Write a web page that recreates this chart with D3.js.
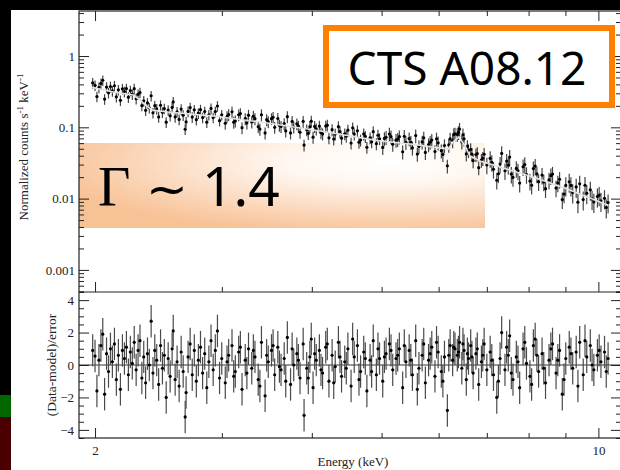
<!DOCTYPE html>
<html><head><meta charset="utf-8">
<script src="https://cdn.jsdelivr.net/npm/d3@7"></script>
<style>html,body{margin:0;padding:0;background:#000;} svg{display:block}</style>
</head><body>
<svg id="c" width="620" height="470"></svg>
<script>
// ---------------- data ----------------
const energy = [
1.985,2.000,2.012,2.025,2.038,2.050,2.062,2.075,2.088,2.101,2.114,2.128,2.141,2.155,2.169,2.183,2.197,2.211,2.225,2.239,
2.253,2.267,2.281,2.295,2.309,2.323,2.337,2.351,2.365,2.379,2.393,2.407,2.421,2.436,2.451,2.466,2.481,2.496,2.511,2.527,
2.543,2.559,2.568,2.584,2.600,2.617,2.634,2.651,2.668,2.676,2.693,2.711,2.729,2.747,2.765,2.783,2.802,2.821,2.840,2.859,
2.878,2.898,2.918,2.938,2.958,2.978,2.999,
3.033,3.050,3.066,3.099,3.116,3.132,3.166,3.183,3.200,3.233,
3.250,3.267,3.301,3.318,3.335,3.370,3.388,3.405,3.445,3.462,
3.480,3.516,3.534,3.552,3.588,3.606,3.625,3.662,3.680,3.699,
3.737,3.756,3.775,3.813,3.832,3.852,3.891,3.902,3.935,3.955,
3.975,3.993,4.016,4.036,4.057,4.098,4.119,4.140,4.182,4.203,
4.225,4.268,4.290,4.311,4.355,4.377,4.399,4.444,4.466,4.489,
4.535,4.558,4.581,4.628,4.651,4.675,4.722,4.746,4.770,4.819,
4.843,4.868,4.917,4.942,4.967,
5.018,5.045,5.072,5.126,5.153,5.181,5.236,5.264,5.292,5.348,
5.376,5.404,5.461,5.490,5.518,5.576,5.605,5.634,5.692,5.721,
5.751,5.810,5.840,5.870,5.930,5.960,5.991,6.052,6.082,6.113,
6.170,6.198,6.225,6.275,6.298,6.322,6.369,6.392,6.415,6.462,
6.485,6.508,6.555,6.578,6.601,6.648,6.674,6.700,6.760,6.790,
6.820,6.880,6.910,6.940,7.000,
7.075,7.112,7.150,7.226,7.264,7.303,7.340,7.418,7.458,7.497,
7.530,7.570,7.610,7.692,7.733,7.775,7.860,7.903,7.946,8.034,
8.078,8.123,8.170,8.215,8.260,8.352,8.398,8.445,8.540,8.590,
8.636,8.734,8.784,8.833,8.910,8.960,9.010,9.110,9.160,9.212,
9.315,9.367,9.420,9.527,9.581,9.635,9.745,9.800,9.856,9.969,
10.025,10.083,10.198,10.255,10.315];

const counts = [
0.420,0.388,0.270,0.363,0.413,0.457,0.249,0.367,0.305,0.373,0.324,0.383,0.268,0.336,0.239,0.347,0.317,0.349,0.265,0.328,
0.291,0.348,0.252,0.290,0.307,0.202,0.235,0.173,0.220,0.188,0.277,0.160,0.201,0.181,0.140,0.204,0.163,0.183,0.118,0.175,
0.145,0.190,0.227,0.140,0.165,0.129,0.180,0.148,0.094,0.119,0.167,0.189,0.139,0.176,0.128,0.158,0.177,0.137,0.166,0.118,
0.150,0.184,0.137,0.166,0.199,0.124,0.150,
0.114,0.141,0.151,0.165,0.118,0.123,0.150,0.156,0.099,0.132,
0.115,0.148,0.119,0.143,0.132,0.102,0.0944,0.150,0.0835,0.128,
0.120,0.132,0.138,0.100,0.133,0.107,0.103,0.113,0.0890,0.141,
0.0834,0.121,0.101,0.112,0.104,0.0853,0.121,0.0564,0.0922,0.0820,
0.102,0.122,0.0727,0.103,0.0950,0.104,0.0840,0.0808,0.104,0.107,
0.0712,0.0926,0.0686,0.0804,0.102,0.0871,0.0705,0.0810,0.0749,0.0912,
0.0602,0.0985,0.0807,0.0894,0.0619,0.0664,0.0807,0.0745,0.0524,0.0713,
0.0626,0.0868,0.0590,0.0774,0.0690,
0.0523,0.0699,0.0726,0.0806,0.0740,0.0581,0.0661,0.0681,0.0738,0.0454,
0.0750,0.0616,0.0696,0.0617,0.0514,0.0765,0.0422,0.0541,0.0624,0.0713,
0.0445,0.0573,0.0619,0.0662,0.0458,0.0690,0.0607,0.0470,0.0417,0.0556,
0.0288,0.0566,0.0687,0.0652,0.0794,0.0811,0.0795,0.0848,0.0944,0.0624,
0.0787,0.0690,0.0424,0.0541,0.0475,0.0491,0.0420,0.0341,0.0414,0.0429,
0.0272,0.0347,0.0368,0.0419,0.0297,
0.0367,0.0322,0.0258,0.0181,0.0223,0.0305,0.0431,0.0246,0.0335,0.0294,
0.0382,0.0221,0.0198,0.0265,0.0245,0.0165,0.0280,0.0301,0.0218,0.0176,
0.0154,0.0264,0.0286,0.0222,0.0173,0.0214,0.0171,0.0138,0.0183,0.0210,
0.0221,0.0141,0.0166,0.0187,0.0097,0.0116,0.0153,0.0172,0.0153,0.0122,
0.0146,0.0089,0.0161,0.0097,0.0154,0.0119,0.0133,0.0099,0.0090,0.0107,
0.0112,0.0093,0.0101,0.0075,0.0088];

const residual = [
0.9,0.55,-1.6,0.3,1.2,1.9,-1.8,0.7,-0.4,1.0,0.2,1.3,-0.9,0.6,-1.5,0.9,0.4,1.1,-0.6,0.8,
0.1,1.4,-0.3,0.9,1.5,-0.8,0.5,-1.1,0.7,0.0,2.7,-0.5,0.9,0.3,-1.2,1.2,-0.2,0.6,-2.0,0.4,
-0.7,1.0,2.1,-0.9,0.2,-1.3,0.8,-0.4,-3.2,-1.7,0.5,1.3,-0.6,0.9,-1.0,0.3,1.1,-0.5,0.7,-1.4,
0.2,1.5,-0.3,0.9,2.1,-0.8,0.4,
-1.1,0.2,0.6,1.2,-0.7,-0.4,0.8,1.1,-1.5,0.3,
-0.5,1.0,-0.2,0.9,0.5,-0.9,-1.3,1.4,-1.9,0.6,
0.2,0.9,1.2,-0.6,1.1,-0.1,-0.3,0.4,-1.0,1.7,
-1.2,1.0,0.0,0.7,0.3,-0.8,1.3,-3.1,-0.2,-0.8,
0.5,1.6,-1.4,0.7,0.3,0.9,-0.3,-0.5,1.1,1.3,
-1.0,0.6,-1.1,-0.1,1.4,0.5,-0.7,0.2,-0.2,1.0,
-1.3,1.6,0.5,1.2,-0.9,-0.4,0.8,0.4,-1.6,0.3,
-0.4,1.5,-0.6,1.0,0.4,
-1.0,0.5,0.7,1.3,0.9,-0.3,0.4,0.6,1.0,-1.4,
1.2,0.2,0.9,0.3,-0.6,1.5,-1.5,-0.2,0.6,1.3,
-1.1,0.3,0.7,1.1,-0.7,1.4,0.8,-0.4,-1.0,0.5,
-2.8,0.6,1.2,0.3,1.1,1.0,0.6,0.8,1.4,-0.2,
1.3,0.9,-0.9,0.7,0.4,1.2,0.5,-0.5,0.7,1.0,
-1.2,0.2,0.6,1.3,-0.3,
0.8,0.3,-0.6,-2.0,-1.0,0.4,2.0,-0.3,1.1,0.6,
1.8,-0.5,-0.9,0.5,0.2,-1.4,1.0,1.4,0.1,-0.7,
-1.2,1.2,1.6,0.6,-0.4,0.7,-0.2,-1.1,0.3,1.0,
1.3,-0.5,0.3,0.9,-1.8,-0.9,0.4,1.1,0.7,-0.2,
0.8,-1.3,1.4,-0.6,1.5,0.5,1.2,0.0,-0.3,0.6,
0.9,0.2,0.8,-0.4,0.4];

// relative 1-sigma error of the counts, by energy band (upper edges in keV)
const errBandEdge = [3, 5, 7, 9, 11];
const errBandFrac = [0.17, 0.19, 0.22, 0.26, 0.30];

// best-fit model curve
const modelEnergy = [1.98,2.00,2.12,2.26,2.31,2.36,2.40,2.52,2.92,3.47,4.11,4.98,5.48,6.03,6.19,6.28,6.40,6.53,6.63,6.85,7.30,7.61,8.11,9.05,10.05,10.32];
const modelCounts = [0.362,0.356,0.313,0.284,0.241,0.199,0.175,0.164,0.144,0.115,0.0888,0.0643,0.0583,0.0513,0.0496,0.0622,0.0731,0.0547,0.0396,0.0337,0.0277,0.0244,0.0201,0.01365,0.00897,0.00805];

const countTicks = [1, 0.1, 0.01, 0.001];
const countTickLabels = ["1", "0.1", "0.01", "0.001"];
const residTicks = [4, 2, 0, -2, -4];
const energyTicks = [2, 10];
const energyMinorTicks = [3, 4, 5, 6, 7, 8, 9];
const sourceName = "CTS A08.12";
const gammaSymbol = "Γ", gammaValue = "1.4";

// ---------------- layout ----------------
const W = 620, H = 470;
const L = 79, R = 621, T = 11, M = 292, B = 438;
const svg = d3.select("#c");
const serif = "'Liberation Serif','Times New Roman',serif";
const ink = "#222";

svg.append("rect").attr("width", W).attr("height", H).attr("fill", "#000");
svg.append("rect").attr("x", 11).attr("y", 10).attr("width", W - 11).attr("height", H - 10).attr("fill", "#fff");
svg.append("rect").attr("x", 0).attr("y", 395).attr("width", 11).attr("height", 22).attr("fill", "#006600");
svg.append("rect").attr("x", 0).attr("y", 417).attr("width", 11).attr("height", 53).attr("fill", "#4a0000");

const x = d3.scaleLog().domain([1.9, 10.75]).range([L, R]);
const yTop = d3.scaleLog().domain([0.00049, 4.28]).range([M, T]);
const yRes = d3.scaleLinear().domain([-4.5, 4.5]).range([B, M]);

// gradient band behind Gamma label
const defs = svg.append("defs");
const grad = defs.append("radialGradient").attr("id", "gband")
  .attr("cx", 0.76).attr("cy", 0.22).attr("r", 0.85).attr("fx", 0.76).attr("fy", 0.22);
grad.append("stop").attr("offset", "0%").attr("stop-color", "#ffffff");
grad.append("stop").attr("offset", "30%").attr("stop-color", "#fff7f0");
grad.append("stop").attr("offset", "100%").attr("stop-color", "#f8c297");
svg.append("rect").attr("x", L).attr("y", 143).attr("width", 485 - L).attr("height", 85)
  .attr("fill", "url(#gband)");

defs.append("clipPath").attr("id", "cpTop").append("rect")
  .attr("x", L).attr("y", T).attr("width", R - L).attr("height", M - T);
defs.append("clipPath").attr("id", "cpRes").append("rect")
  .attr("x", L).attr("y", M).attr("width", R - L).attr("height", B - M);

const bandFrac = e => errBandFrac[Math.max(0, errBandEdge.findIndex(b => e < b))];
const n = Math.min(energy.length, counts.length, residual.length);
const pts = d3.range(n).map(i => ({ e: energy[i], c: counts[i], r: residual[i], f: bandFrac(energy[i]) }));

// upper panel data
const gTop = svg.append("g").attr("clip-path", "url(#cpTop)");
gTop.selectAll("line.eb").data(pts).join("line")
  .attr("x1", d => x(d.e)).attr("x2", d => x(d.e))
  .attr("y1", d => yTop(d.c * (1 - d.f))).attr("y2", d => yTop(d.c * (1 + d.f)))
  .attr("stroke", "#454545").attr("stroke-width", 1.2);
gTop.selectAll("circle").data(pts).join("circle")
  .attr("cx", d => x(d.e)).attr("cy", d => yTop(d.c)).attr("r", 1.6).attr("fill", "#000");
const model = modelEnergy.map((e, i) => [e, modelCounts[i]]);
gTop.append("path").datum(model)
  .attr("d", d3.line().x(d => x(d[0])).y(d => yTop(d[1])))
  .attr("fill", "none").attr("stroke", "#e2e2e2").attr("stroke-width", 1.6);

// residual panel
const gRes = svg.append("g").attr("clip-path", "url(#cpRes)");
gRes.append("line").attr("x1", L).attr("x2", R).attr("y1", yRes(0)).attr("y2", yRes(0))
  .attr("stroke", "#333").attr("stroke-width", 1);
gRes.selectAll("line.eb").data(pts).join("line")
  .attr("x1", d => x(d.e)).attr("x2", d => x(d.e))
  .attr("y1", d => yRes(d.r - 1)).attr("y2", d => yRes(d.r + 1))
  .attr("stroke", "#4a4a4a").attr("stroke-width", 1.2);
gRes.selectAll("circle").data(pts).join("circle")
  .attr("cx", d => x(d.e)).attr("cy", d => yRes(d.r)).attr("r", 1.6).attr("fill", "#000");

// axes (inward ticks)
function styleAxis(g) {
  g.select(".domain").remove();
  g.selectAll("line").attr("stroke", ink).attr("stroke-width", 1);
  g.selectAll("text").attr("fill", ink).style("font-family", serif).style("font-size", "13px");
}
const lg = [];
for (let k = -4; k <= 0; k++) for (let m = 2; m <= 9; m++) { const v = m * Math.pow(10, k); if (v > 0.00049 && v < 4.28) lg.push(v); }
const resMinor = d3.range(-4.5, 4.51, 0.5).filter(v => residTicks.indexOf(v) < 0);

svg.append("g").attr("transform", `translate(${L},0)`)
  .call(d3.axisLeft(yTop).tickValues(countTicks).tickSize(-10).tickPadding(4).tickFormat((d, i) => countTickLabels[i])).call(styleAxis);
svg.append("g").attr("transform", `translate(${L},0)`)
  .call(d3.axisLeft(yTop).tickValues(lg).tickSize(-5).tickFormat("")).call(styleAxis);
svg.append("g").attr("transform", `translate(${R},0)`)
  .call(d3.axisRight(yTop).tickValues(countTicks).tickSize(-10).tickFormat("")).call(styleAxis);
svg.append("g").attr("transform", `translate(${R},0)`)
  .call(d3.axisRight(yTop).tickValues(lg).tickSize(-5).tickFormat("")).call(styleAxis);

svg.append("g").attr("transform", `translate(${L},0)`)
  .call(d3.axisLeft(yRes).tickValues(residTicks).tickSize(-10).tickPadding(5).tickFormat(d3.format("d"))).call(styleAxis);
svg.append("g").attr("transform", `translate(${L},0)`)
  .call(d3.axisLeft(yRes).tickValues(resMinor).tickSize(-5).tickFormat("")).call(styleAxis);
svg.append("g").attr("transform", `translate(${R},0)`)
  .call(d3.axisRight(yRes).tickValues(residTicks).tickSize(-10).tickFormat("")).call(styleAxis);
svg.append("g").attr("transform", `translate(${R},0)`)
  .call(d3.axisRight(yRes).tickValues(resMinor).tickSize(-5).tickFormat("")).call(styleAxis);

[[T, d3.axisTop], [M, d3.axisBottom]].forEach(([yy, ax]) => {
  svg.append("g").attr("transform", `translate(0,${yy})`).call(ax(x).tickValues(energyTicks).tickSize(-10).tickFormat("")).call(styleAxis);
  svg.append("g").attr("transform", `translate(0,${yy})`).call(ax(x).tickValues(energyMinorTicks).tickSize(-5).tickFormat("")).call(styleAxis);
});
svg.append("g").attr("transform", `translate(0,${B})`)
  .call(d3.axisBottom(x).tickValues(energyTicks).tickSize(-10).tickPadding(8).tickFormat(d3.format("d"))).call(styleAxis);
svg.append("g").attr("transform", `translate(0,${B})`)
  .call(d3.axisBottom(x).tickValues(energyMinorTicks).tickSize(-5).tickFormat("")).call(styleAxis);

// frame
const fr = svg.append("g").attr("stroke", ink).attr("stroke-width", 1.2).attr("fill", "none");
fr.append("rect").attr("x", L).attr("y", T).attr("width", R - L).attr("height", B - T);
fr.append("line").attr("x1", L).attr("x2", R).attr("y1", M).attr("y2", M);

// axis titles
const t1 = svg.append("text").attr("transform", "translate(28,147) rotate(-90)")
  .attr("text-anchor", "middle").attr("fill", ink).style("font-family", serif).style("font-size", "13px");
t1.append("tspan").text("Normalized counts s");
t1.append("tspan").attr("dy", -5).style("font-size", "9px").text("-1");
t1.append("tspan").attr("dy", 5).text(" keV");
t1.append("tspan").attr("dy", -5).style("font-size", "9px").text("-1");
svg.append("text").attr("transform", "translate(56,365) rotate(-90)")
  .attr("text-anchor", "middle").attr("fill", ink).style("font-family", serif).style("font-size", "13.5px")
  .text("(Data-model)/error");
svg.append("text").attr("x", 353).attr("y", 466).attr("text-anchor", "middle").attr("fill", ink)
  .style("font-family", serif).style("font-size", "13px").text("Energy (keV)");

// Gamma label
svg.append("text").attr("x", 98).attr("y", 206).attr("fill", "#000")
  .style("font-family", serif).style("font-size", "56px").text(gammaSymbol);
svg.append("text").attr("x", 146).attr("y", 206).attr("fill", "#000")
  .style("font-family", "'DejaVu Sans',sans-serif").style("font-size", "50px").text("~");
svg.append("text").attr("x", 202).attr("y", 206).attr("fill", "#000")
  .style("font-family", "'Noto Sans',sans-serif").style("font-size", "55px").text(gammaValue);

// source name box
svg.append("rect").attr("x", 326).attr("y", 28).attr("width", 286).attr("height", 77)
  .attr("fill", "#fff").attr("stroke", "#ff7f00").attr("stroke-width", 6);
svg.append("text").attr("x", 467).attr("y", 85).attr("text-anchor", "middle").attr("fill", "#000")
  .style("font-family", "'Noto Sans',sans-serif").style("font-size", "46px").text(sourceName);
</script>
</body></html>
